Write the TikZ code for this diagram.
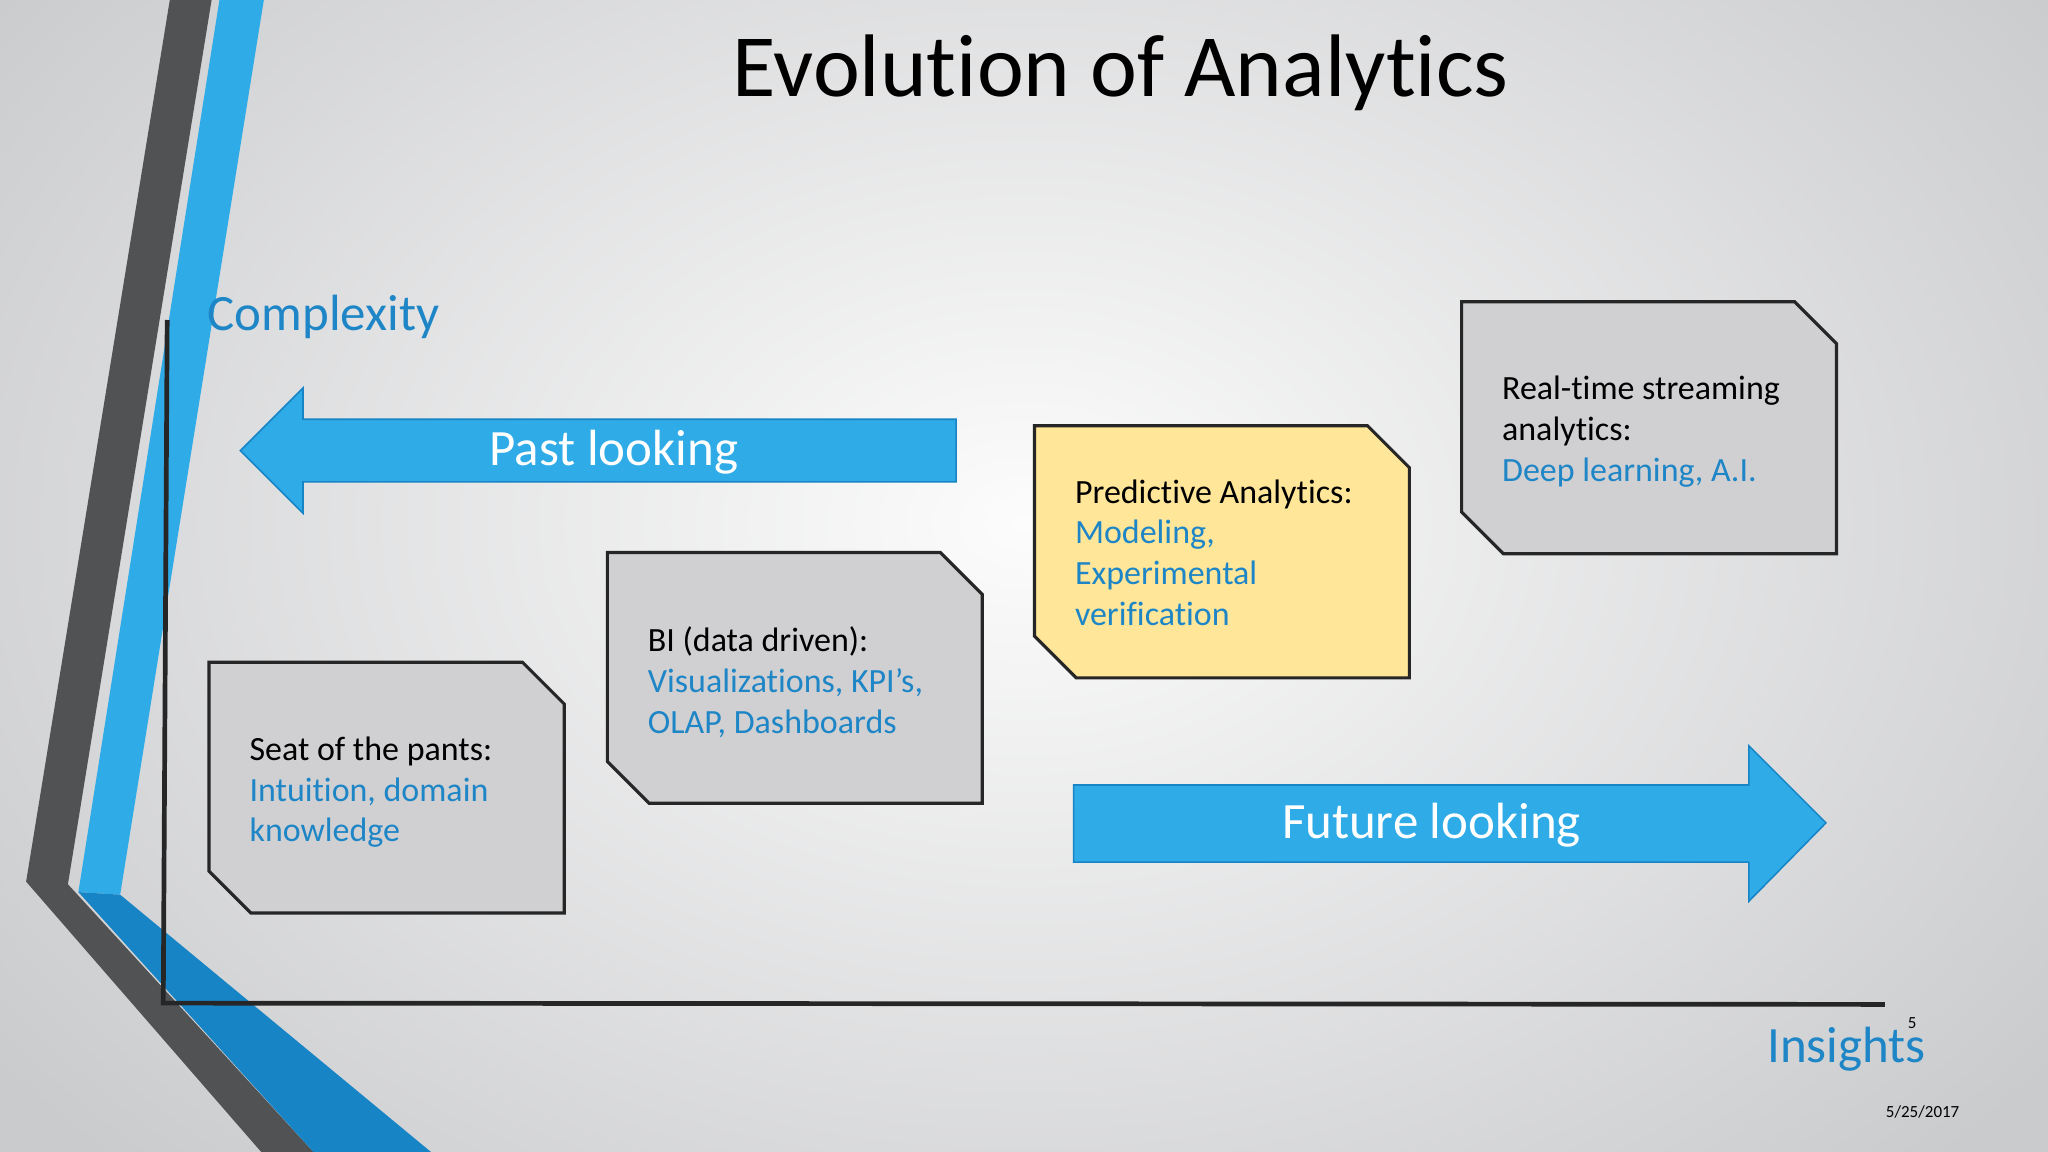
\documentclass[tikz,border=0pt]{standalone}
\usepackage{fontspec}
\setmainfont{Carlito}[Ligatures=NoCommon]
\usetikzlibrary{shapes.arrows}
\definecolor{bgc}{HTML}{FCFCFC}
\definecolor{bge}{HTML}{CACBCD}
\definecolor{dkg}{HTML}{505254}
\definecolor{blu}{HTML}{2FACE8}
\definecolor{dblu}{HTML}{1784C6}
\definecolor{lbl}{HTML}{1E86C6}
\definecolor{boxg}{HTML}{D0D0D2}
\definecolor{yel}{HTML}{FFE699}
\tikzset{
 snip/.style={draw=black!85,line width=1.2pt},
 btxt/.style={anchor=north west,align=left,font=\fontsize{13}{15.6}\selectfont,text=black},
 arr/.style={fill=blu,draw=dblu,line width=0.6pt},
 atxt/.style={font=\fontsize{19.5}{22}\selectfont,text=white},
 axl/.style={font=\fontsize{19.5}{22}\selectfont,text=lbl}
}
\newcommand{\hl}[1]{\textcolor{lbl}{#1}}
\begin{document}
\begin{tikzpicture}[x=0.5pt,y=-0.5pt]
\useasboundingbox (0,0) rectangle (1568,882);
\shade[inner color=bgc,outer color=bge] (-200,-300) rectangle (1768,1100);
% left decoration
\fill[dkg] (130,0)--(162,0)--(52,677)--(240,882)--(200,882)--(20,675)--cycle;
\fill[blu] (168,0)--(202,0)--(92,685)--(60,683)--cycle;
\fill[dblu] (60,683)--(92,685)--(330,882)--(240,882)--cycle;
% axes
\coordinate (o) at (125,768);
\coordinate (yt) at (128,245);
\coordinate (xe) at (1443,769);
\draw[line width=1.8pt,black!85] (yt)--(o)--(xe);
% title
\node[font=\fontsize{34}{38}\selectfont] (title) at (858,56) {Evolution of Analytics};
\node[axl,anchor=west] (cx) at (152,243) {Complexity};
\node[axl,anchor=west] (ins) at (1346,803) {Insights};
\node[font=\fontsize{6.5}{7}\selectfont] (pg) at (1464,783) {5};
\node[font=\fontsize{6.5}{7}\selectfont] (dt) at (1472,851) {5/25/2017};
% arrows
\draw[arr] (184,345)--(232,297)--(232,321)--(732,321)--(732,369)--(232,369)--(232,393)--cycle;
\node[atxt] (pl) at (470,346) {Past looking};
\draw[arr] (1398,630)--(1339,571)--(1339,601)--(822,601)--(822,660)--(1339,660)--(1339,690)--cycle;
\node[atxt] (fl) at (1096,632) {Future looking};
% boxes
\newcommand{\snipbox}[5]{\draw[snip,fill=#5] (#1,#2)--(#3-32,#2)--(#3,#2+32)--(#3,#4)--(#1+32,#4)--(#1,#4-32)--cycle;}
\snipbox{160}{507}{432}{699}{boxg}
\node[btxt] (b1) at (184,557) {Seat of the pants:\\\hl{Intuition, domain}\\\hl{knowledge}};
\snipbox{465}{423}{752}{615}{boxg}
\node[btxt] (b2) at (489,473) {BI (data driven):\\\hl{Visualizations, KPI’s,}\\\hl{OLAP, Dashboards}};
\snipbox{792}{326}{1079}{519}{yel}
\node[btxt] (b3) at (816,360) {Predictive Analytics:\\\hl{Modeling,}\\\hl{Experimental}\\\hl{verification}};
\snipbox{1119}{231}{1406}{424}{boxg}
\node[btxt] (b4) at (1143,281) {Real-time streaming\\analytics:\\\hl{Deep learning, A.I.}};
\end{tikzpicture}
\end{document}
